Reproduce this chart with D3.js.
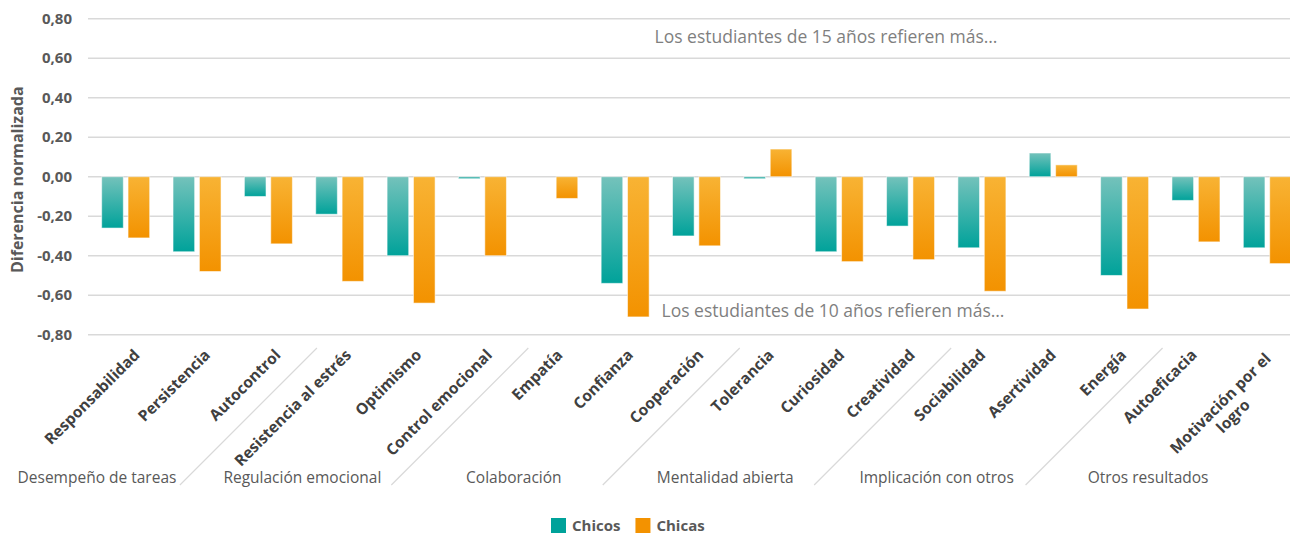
<!DOCTYPE html>
<html>
<head>
<meta charset="utf-8">
<script src="https://cdn.jsdelivr.net/npm/d3@7/dist/d3.min.js"></script>
<style>
  body { margin: 0; background: #fff; }
  svg { display: block; font-family: "Open Sans", "Noto Sans", sans-serif; }
</style>
</head>
<body>
<div id="chart"></div>
<script>
// categories and values
var categories = ['Responsabilidad', 'Persistencia', 'Autocontrol', 'Resistencia al estrés', 'Optimismo',
    'Control emocional', 'Empatía', 'Confianza', 'Cooperación', 'Tolerancia', 'Curiosidad', 'Creatividad',
    'Sociabilidad', 'Asertividad', 'Energía', 'Autoeficacia', 'Motivación por el logro'];
var groupNames = ['Desempeño de tareas', 'Regulación emocional', 'Colaboración', 'Mentalidad abierta',
    'Implicación con otros', 'Otros resultados'];
var groupSizes = [3, 3, 3, 3, 3, 2];
var chicos = [-0.26, -0.38, -0.10, -0.19, -0.40, -0.01, 0.00, -0.54, -0.30, -0.01, -0.38, -0.25, -0.36, 0.12, -0.50, -0.12, -0.36];
var chicas = [-0.31, -0.48, -0.34, -0.53, -0.64, -0.40, -0.11, -0.71, -0.35, 0.14, -0.43, -0.42, -0.58, 0.06, -0.67, -0.33, -0.44];
var seriesNames = ['Chicos', 'Chicas'];
var yTicks = [0.8, 0.6, 0.4, 0.2, 0, -0.2, -0.4, -0.6, -0.8];
var notes = ['Los estudiantes de 15 años refieren más…', 'Los estudiantes de 10 años refieren más…'];

var W = 1290, H = 536;
var colors = {
    Chicos: ['#74c2bb', '#00a29a'],
    Chicas: ['#f8b334', '#f39200']
};

var svg = d3.select('#chart').append('svg').attr('width', W).attr('height', H);

var y = d3.scaleLinear().domain([-0.8, 0.8]).range([334.7, 18.7]);
var x = d3.scaleBand().domain(categories).range([90, 1303]);
// the label row sits on a slightly narrower axis than the bars
var xl = d3.scaleBand().domain(categories).range([91, 1289]);
var x1 = d3.scaleBand().domain(seriesNames).range([-24, 24]).paddingInner(0.18);

// gradients
var defs = svg.append('defs');
seriesNames.forEach(function (s) {
    var g = defs.append('linearGradient').attr('id', 'grad-' + s)
        .attr('x1', 0).attr('y1', 0).attr('x2', 0).attr('y2', 1);
    g.append('stop').attr('offset', '0%').attr('stop-color', colors[s][0]);
    g.append('stop').attr('offset', '100%').attr('stop-color', colors[s][1]);
});

// grid
svg.append('g').selectAll('line').data(yTicks).join('line')
    .attr('x1', 88).attr('x2', 1303)
    .attr('y1', function (d) { return y(d); }).attr('y2', function (d) { return y(d); })
    .attr('stroke', '#d9d9d9').attr('stroke-width', 1.5);

// y tick labels
var fmt = function (d) { return d3.format('.2f')(d).replace('.', ',').replace('−', '-'); };
svg.append('g').selectAll('text').data(yTicks).join('text')
    .attr('x', 72).attr('y', function (d) { return y(d); }).attr('dy', '0.35em')
    .attr('text-anchor', 'end')
    .attr('font-size', 15).attr('font-weight', 'bold').attr('fill', '#595959')
    .text(fmt);

svg.append('text')
    .attr('transform', 'translate(23,' + (y(0) + 3) + ') rotate(-90)')
    .attr('text-anchor', 'middle')
    .attr('font-size', 16).attr('font-weight', 'bold').attr('fill', '#595959')
    .text('Diferencia normalizada');

// annotations
svg.append('text').attr('x', 826).attr('y', y(0.71)).attr('dy', '0.35em')
    .attr('text-anchor', 'middle').attr('font-size', 17.5).attr('fill', '#7f7f7f').text(notes[0]);
svg.append('text').attr('x', 833).attr('y', y(-0.68)).attr('dy', '0.35em')
    .attr('text-anchor', 'middle').attr('font-size', 17.5).attr('fill', '#7f7f7f').text(notes[1]);

// bars
var rows = categories.map(function (c, i) {
    return { cat: c, values: [{ s: 'Chicos', v: chicos[i] }, { s: 'Chicas', v: chicas[i] }] };
});
var cat = svg.append('g').selectAll('g').data(rows).join('g')
    .attr('transform', function (d) { return 'translate(' + (x(d.cat) + x.bandwidth() / 2) + ',0)'; });
cat.selectAll('rect').data(function (d) { return d.values.filter(function (v) { return v.v !== 0; }); }).join('rect')
    .attr('x', function (d) { return x1(d.s); })
    .attr('width', x1.bandwidth())
    .attr('y', function (d) { return y(Math.max(0, d.v)); })
    .attr('height', function (d) { return Math.abs(y(d.v) - y(0)); })
    .attr('fill', function (d) { return 'url(#grad-' + d.s + ')'; })
    .attr('stroke', 'rgba(255,255,255,0.55)').attr('stroke-width', 1);

// category labels, rotated 45deg, ending at the tick
var labelDx = 14.5, labelY = 356;
var labels = svg.append('g').selectAll('g').data(categories).join('g')
    .attr('transform', function (d) {
        return 'translate(' + (xl(d) + xl.bandwidth() / 2 + labelDx) + ',' + labelY + ') rotate(-45)';
    });
labels.each(function (d) {
    var g = d3.select(this);
    var lines = d === 'Motivación por el logro' ? ['Motivación por el', 'logro'] : [d];
    var t = g.selectAll('text').data(lines).join('text')
        .attr('font-size', 15.5).attr('font-weight', 'bold').attr('fill', '#404040')
        .text(function (l) { return l; });
    if (lines.length === 1) {
        t.attr('text-anchor', 'end');
    } else {
        var L = t.nodes()[0].getComputedTextLength();
        t.attr('text-anchor', 'middle').attr('x', -L / 2)
            .attr('y', function (l, i) { return 5 + i * 18; });
    }
});

// group separators and names
var start = 0, bounds = [];
groupSizes.forEach(function (n) { bounds.push(start); start += n; });
svg.append('g').selectAll('line').data(bounds.slice(1)).join('line')
    .attr('x1', function (b) { return xl(categories[b]) + labelDx; })
    .attr('y1', 348)
    .attr('x2', function (b) { return xl(categories[b]) + labelDx - 137; })
    .attr('y2', 485)
    .attr('stroke', '#d9d9d9').attr('stroke-width', 1.2);
svg.append('g').selectAll('text').data(groupNames).join('text')
    .attr('x', function (g, i) { return xl(categories[bounds[i]]) + (i === 0 ? 6 : 0); })
    .attr('y', 483)
    .attr('text-anchor', 'middle')
    .attr('font-size', 15.5).attr('fill', '#595959')
    .text(function (g) { return g; });

// legend
var legend = svg.append('g');
var lx = 551;
seriesNames.forEach(function (s) {
    legend.append('rect').attr('x', lx).attr('y', 518).attr('width', 15).attr('height', 15)
        .attr('fill', colors[s][1]);
    var t = legend.append('text').attr('x', lx + 21).attr('y', 531)
        .attr('font-size', 15).attr('font-weight', 'bold').attr('fill', '#595959').text(s);
    lx += 21 + t.node().getComputedTextLength() + 15;
});
</script>
</body>
</html>
